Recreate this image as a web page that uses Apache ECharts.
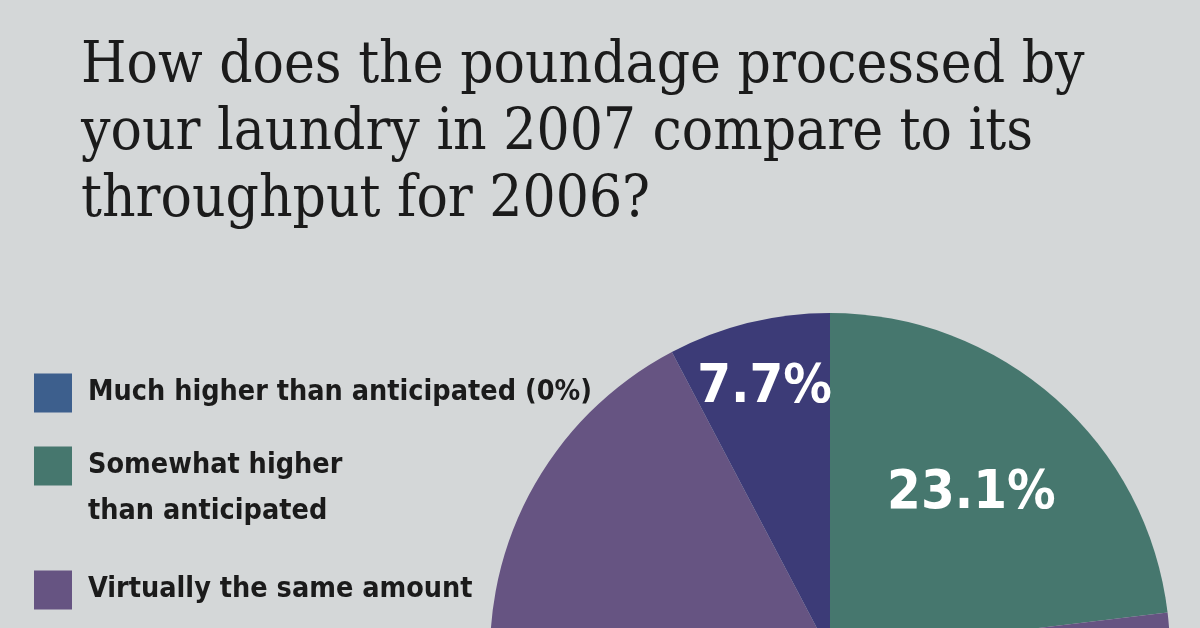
<!DOCTYPE html>
<html>
<head>
<meta charset="utf-8">
<script src="https://cdn.jsdelivr.net/npm/echarts@6/dist/echarts.min.js"></script>
<style>
  html, body { margin: 0; padding: 0; background: #d4d7d8; }
  #chart { width: 1200px; height: 628px; }
</style>
</head>
<body>
<div id="chart"></div>
<script>
// survey answers, clockwise from 12 o'clock
var categories = [
  'Much higher than anticipated (0%)',
  'Somewhat higher\nthan anticipated',
  'Virtually the same amount',
  'Somewhat lower than anticipated'
]
var shares = [0, 23.1, 69.2, 7.7]
var sliceColors = ['#3d5f8d', '#46776e', '#665482', '#3c3b77']

var narrow = "'Liberation Sans Narrow', 'DejaVu Sans Condensed', sans-serif"

var chart = echarts.init(document.getElementById('chart'))

function pieData (showIdx) {
  return categories.map(function (name, i) {
    return {
      name: name,
      value: shares[i],
      label: { show: i === showIdx }
    }
  })
}

function legendItem (idx, top) {
  return {
    data: [categories[idx]],
    orient: 'vertical',
    left: 29,
    top: top,
    icon: 'rect',
    itemWidth: 38,
    itemHeight: 39,
    selectedMode: false,
    // keep the icon level with the first text line
    formatter: function (name) {
      return name.indexOf('\n') > -1 ? ' \n' + name : name
    },
    textStyle: {
      fontFamily: narrow,
      fontWeight: 'bold',
      fontSize: 28.5,
      lineHeight: 46,
      color: '#1b1b1b',
      padding: [0, 0, 0, 11]
    }
  }
}

var labelStyle = {
  position: 'inside',
  formatter: '{c}%',
  color: '#ffffff',
  fontFamily: narrow,
  fontWeight: 'bold',
  fontSize: 54
}

chart.setOption({
  backgroundColor: '#d4d7d8',
  animation: false,
  color: sliceColors,
  title: {
    text: 'How does the poundage processed by\nyour laundry in 2007 compare to its\nthroughput for 2006?',
    left: 76,
    top: 28,
    textStyle: {
      fontFamily: "'DejaVu Serif Condensed', 'Liberation Serif', serif",
      fontWeight: 'normal',
      fontSize: 58,
      lineHeight: 67,
      color: '#1b1b1b'
    }
  },
  legend: [legendItem(0, 365), legendItem(1, 392), legendItem(2, 562)],
  series: [
    {
      name: 'base',
      type: 'pie',
      center: [830, 653],
      radius: [0, 340],
      startAngle: 90,
      label: { show: false },
      labelLine: { show: false },
      silent: true,
      data: categories.map(function (name, i) {
        return { name: name, value: shares[i] }
      })
    },
    {
      // label carrier for the wide slice
      name: 'labelsA',
      type: 'pie',
      center: [830, 653],
      radius: [80, 340],
      startAngle: 90,
      silent: true,
      itemStyle: { color: 'rgba(0,0,0,0)' },
      label: labelStyle,
      labelLine: { show: false },
      data: pieData(1)
    },
    {
      // label carrier for the thin slice
      name: 'labelsB',
      type: 'pie',
      center: [830, 653],
      radius: [200, 340],
      startAngle: 90,
      silent: true,
      itemStyle: { color: 'rgba(0,0,0,0)' },
      label: labelStyle,
      labelLine: { show: false },
      data: pieData(3)
    }
  ]
})
</script>
</body>
</html>
